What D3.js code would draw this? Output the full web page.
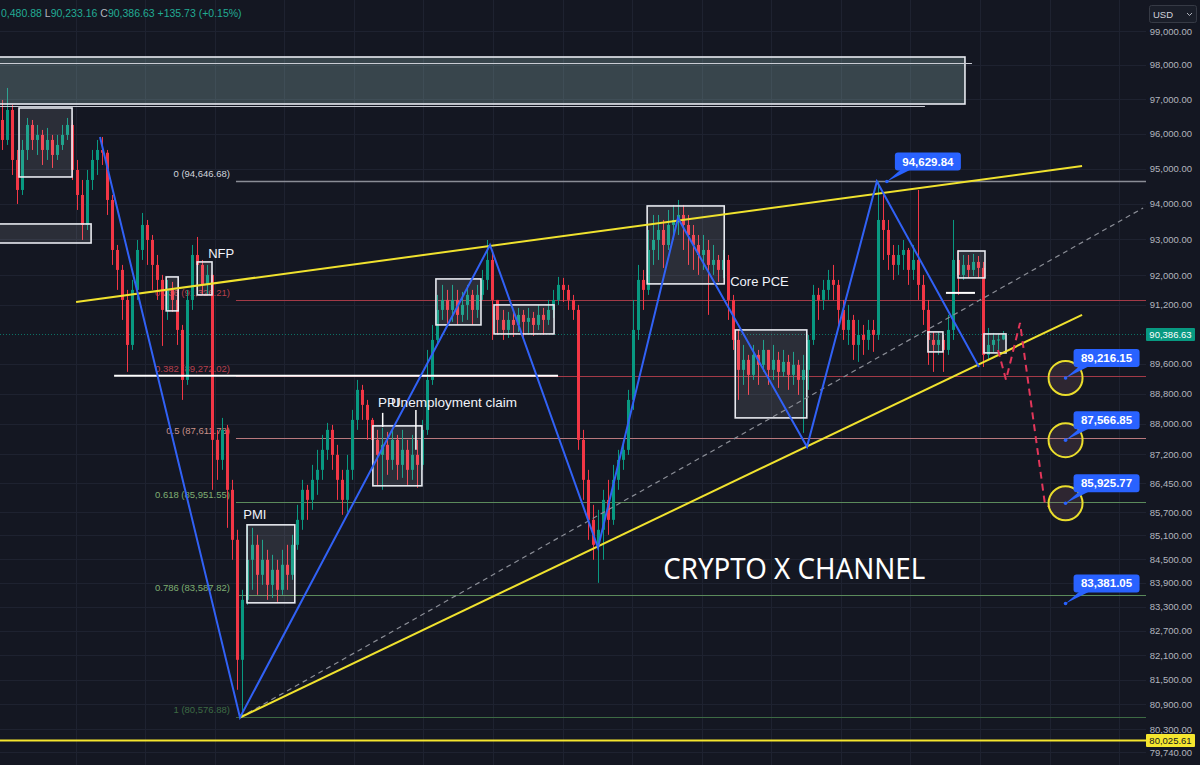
<!DOCTYPE html>
<html><head><meta charset="utf-8">
<script src="https://cdn.jsdelivr.net/npm/d3@7"></script>
<style>body{margin:0;background:#141722;}svg{display:block}</style>
</head><body><svg id="c" width="1200" height="765"></svg>
<script>
// ---------- DATA ----------
const firstOpen = 96393;
const closes = [95817,96683,95244,94391,95530,96249,95817,95961,95530,95817,95387,95674,95961,96249,94959,94249,93405,94674,95244,95530,
95450,94108,92707,92154,91328,90104,91603,92707,93405,92985,92292,91878,91055,91603,91328,90510,89163,91328,92568,92292,
91741,92016,87574,87050,87837,86271,84987,81983,83471,84479,84860,84100,84479,83848,84226,83722,84353,84100,84860,85498,
86271,86012,86530,86790,87312,87837,87181,86530,86012,86790,88100,88897,88498,88100,87574,87181,87443,87050,87574,86920,
87312,86790,87181,86920,87837,89163,90239,91055,91328,91055,91328,90919,91192,91466,91055,91466,91878,92430,91328,90782,
90510,90782,90646,90919,90728,90837,90646,90919,90782,91055,91328,91741,91603,91328,91055,87574,86530,85498,84860,85243,
86012,85498,86530,87050,87312,88630,90510,91878,91603,92707,92985,93265,92846,93405,93545,93686,93405,93125,92846,92568,
92707,92292,92430,92154,92430,91328,90239,89432,89700,89298,89835,89566,89969,89432,89700,89378,89646,89298,89566,89163,
89432,90239,91466,91328,91603,91878,91741,91055,90510,90782,90104,90375,90239,90510,90375,93545,93265,92568,92292,92568,
92707,92154,92430,91741,91055,90239,90104,90239,89969,90510,92430,92016,92292,92154,92375,92209,89835,90104,90239,90250.9,
90386.63];
const highs = [96973,97323,96828,95530,95817,96451,96393,96249,96105,96163,95961,95961,96249,96451,96393,95244,94674,94959,95530,95817,
95903,95530,94249,92846,92292,91603,91878,92985,93742,93545,93125,92568,92016,91878,91823,91603,90646,91603,92846,93069,
92430,92292,91878,87837,88153,87968,86530,85243,83722,85370,85293,85115,84987,84733,84606,84479,84733,84860,85115,85884,
86530,86400,86920,87312,87705,88021,87968,87443,86790,87181,88365,89163,89030,88630,88153,87837,87889,87784,87837,87705,
87837,87574,87705,87574,88100,89969,90646,91466,91741,91603,91741,91603,91548,91741,91603,91741,92154,92985,92707,91328,
91055,91000,91055,91110,91055,91110,91000,91192,91110,91328,91603,91960,91933,91741,91466,91192,87837,86790,85884,85755,
86271,86530,86920,87312,87574,88897,91328,92292,92154,93265,93686,93686,93545,93826,93967,94108,93967,93686,93405,93125,
93125,92985,92846,92568,92707,92568,91466,90510,90104,89835,90104,89969,90239,89969,90104,89916,89969,89835,89916,89700,
89835,90375,91741,91658,91878,92154,92292,91878,91328,91192,90919,90782,90646,90782,90782,94629.84,94249,93545,92846,92846,
92985,92763,92846,94391,92016,91328,90456,90456,90375,90919,93545,92707,92568,92568,92596,92540,92375,90564,90429,90402,
90480.88];
const lows = [95530,95674,94816,93995,94249,95244,95530,95387,95101,95244,95016,95244,95530,95817,94674,93826,92985,93265,94391,94816,
95101,93686,92292,91603,90782,89378,89969,91328,92430,92292,91603,91328,90077,90782,91000,90104,88630,89030,91055,91878,
91466,91466,86271,86530,86790,85293,84479,81250,80576.88,83346,83722,83597,83848,83471,83521,83421,83597,83722,83974,84733,
85243,85498,85755,86141,86530,87050,86790,86012,85627,85704,86530,87837,88100,87574,87050,86400,86271,86660,86790,86530,
86582,86400,86530,86323,86790,87705,89030,90104,90782,90646,90728,90646,90728,90782,90646,90837,91328,91603,90239,90375,
90239,90293,90320,90456,90239,90429,90348,90510,90375,90646,90837,91192,91274,91055,90782,87312,86012,84987,84479,83898,
84479,85115,85370,86271,86790,87181,88365,90239,91055,91466,92292,92430,92209,92707,92985,93125,92707,92292,92154,92016,
92154,90919,92016,91823,91933,90782,89969,88630,89030,88763,89163,89030,89378,89030,89163,88950,89244,88897,89030,88763,
87758,88897,90104,90782,91055,91328,91328,90646,90239,90104,89700,89646,89835,89969,89916,90239,92430,92154,91878,92016,
92154,91741,91878,91328,90646,89566,89378,89835,89378,89835,90239,91466,91878,91933,91988,91933,89510,89700,89916,89969,
90233.16];

const priceTicks = [99000,98000,97000,96000,95000,94000,93000,92000,91200,89600,88800,88000,87200,86450,85700,85100,84500,83900,83300,82700,82100,81500,80900,80300,79740];
const timeGridIdx = [14.7,28.6,42.5,56.4,70.3,84.2,98.1,112.0,125.9,139.8,153.7,167.6,181.5,195.4,209.3,223.2];

const fibRatios = ["0","0.236","0.382","0.5","0.618","0.786","1"];
const fibPrices = [94646.68,91326.21,89272.02,87611.78,85951.55,83587.82,80576.88];
const fibRange = [46.75, 228.6];

const lastPrice = 90386.63;
const supportPrice = 80025.61;

// boxes: [idx0, idx1, priceTop, priceBottom]
const zoneTop = [-1, 192.4, 98231, 96856];
const zoneLines = [[-1, 193.8, 98055], [-1, 184.4, 96798]];
const boxes = [
  [3.4, 14.0, 96740, 94759],
  [-1, 17.8, 93433, 92901],
  [32.8, 35.2, 91960, 91028],
  [39.0, 41.96, 92375, 91465],
  [48.95, 58.5, 85370, 83396],
  [74.1, 83.9, 87942, 86375],
  [86.7, 95.7, 91905, 90646],
  [98.3, 110.3, 91191, 90401],
  [128.9, 144.3, 93939, 91768],
  [146.5, 160.8, 90510, 88153],
  [185.0, 188.0, 90456, 89915],
  [191.0, 196.4, 92678, 91933],
  [196.2, 200.6, 90401, 89888]
];
const whiteHLines = [[22.4, 111.1, 89272.02], [188.6, 194.4, 91521]];
const whiteVLines = [[76.06, 88286, 87915], [82.7, 88365, 87312]];

const channelUpper = [[14.8, 91273], [215.8, 95072]];
const channelLower = [[47.55, 80576.88], [215.8, 90919]];
const midDashed = [[47.55, 80576.88], [228.0, 93882]];
const zigzag = [[19.58, 95903], [47.55, 80576.88], [97.5, 92846], [119.08, 84784], [135.06, 93601], [160.84, 87391], [174.8, 94629.84], [195.2, 89510]];
const projection = [[199.0, 89969], [200.6, 89163], [203.4, 90700], [208.4, 85884], [209.4, 85830]];

const targetCircles = [89216.15, 87566.85, 85925.77];
const targetIdx = 212.5;
const callouts = [[176.8, 94629.84], [212.5, 89216.15], [212.5, 87566.85], [212.5, 85925.77], [212.5, 83381.05]];

const eventLabels = [
  ["NFP", 41.2, 92485, 13],
  ["PMI", 48.2, 85524, 13],
  ["PPI", 75.1, 88445, 13.5],
  ["Unemployment claim", 77.7, 88445, 13.5],
  ["Core PCE", 145.5, 91713, 13]
];
const watermark = ["CRYPTO X CHANNEL", 132.1, 84000];
const header = [["0,480.88 ", "#22ab94"], ["L", "#b2b5be"], ["90,233.16 ", "#22ab94"], ["C", "#b2b5be"], ["90,386.63 ", "#22ab94"], ["+135.73 (+0.15%)", "#22ab94"]];

// ---------- DRAW ----------
const svg = d3.select('#c');
const x = d3.scaleLinear().domain([0, 200]).range([2, 1003]);
const y = d3.scaleLog().domain([79740, 99000]).range([752.3, 31]);
const plotRight = 1146;
const FONT = "'Liberation Sans', Arial, sans-serif";
const fmt = d3.format(",.2f");
const cr = v => Math.round(v) + 0.5;

svg.append('rect').attr('width', 1200).attr('height', 765).attr('fill', '#141722');
svg.append('clipPath').attr('id', 'plot').append('rect').attr('x', 0).attr('y', 0).attr('width', plotRight).attr('height', 765);
const g = svg.append('g').attr('clip-path', 'url(#plot)');

// grid
g.selectAll('.hg').data(priceTicks).join('line')
  .attr('x1', 0).attr('x2', plotRight).attr('y1', d => cr(y(d))).attr('y2', d => cr(y(d)))
  .attr('stroke', '#1e2230');
g.selectAll('.vg').data(timeGridIdx).join('line')
  .attr('x1', d => cr(x(d))).attr('x2', d => cr(x(d))).attr('y1', 0).attr('y2', 765)
  .attr('stroke', '#1e2230');

// current price dotted line
g.append('line').attr('x1', 0).attr('x2', plotRight).attr('y1', cr(y(lastPrice))).attr('y2', cr(y(lastPrice)))
  .attr('stroke', '#089981').attr('stroke-opacity', 0.7).attr('stroke-dasharray', '1,2');

// fib lines + labels
const fibLineCol = ['#8a8d96', '#a33a47', '#a33a47', '#b8787d', '#5b8a5b', '#5b8a5b', '#3d6a44'];
const fibTextCol = ['#d1d4dc', '#b8404e', '#b8404e', '#c89088', '#7fae72', '#7fae72', '#3d6a44'];
g.selectAll('.fl').data(fibPrices).join('line')
  .attr('x1', x(fibRange[0])).attr('x2', x(fibRange[1]))
  .attr('y1', d => cr(y(d))).attr('y2', d => cr(y(d)))
  .attr('stroke', (d, i) => fibLineCol[i]).attr('stroke-width', (d, i) => i === 0 ? 1.6 : 1);
g.selectAll('.ft').data(fibPrices).join('text')
  .attr('x', x(fibRange[0]) - 6).attr('y', d => y(d) - 4)
  .attr('text-anchor', 'end').attr('font-family', FONT).attr('font-size', 9.5)
  .attr('fill', (d, i) => fibTextCol[i])
  .text((d, i) => `${fibRatios[i]} (${fmt(d)})`);

// candles
const candles = closes.map((c, i) => {
  const o = i === 0 ? firstOpen : closes[i - 1];
  return { i, o, c, h: Math.max(highs[i], o, c), l: Math.min(lows[i], o, c) };
});
const cg = g.append('g');
cg.selectAll('line').data(candles).join('line')
  .attr('x1', d => cr(x(d.i))).attr('x2', d => cr(x(d.i)))
  .attr('y1', d => y(d.h)).attr('y2', d => y(d.l))
  .attr('stroke', d => d.c >= d.o ? '#089981' : '#f23645').attr('stroke-width', 1);
cg.selectAll('rect').data(candles).join('rect')
  .attr('x', d => Math.round(x(d.i)) - 1).attr('width', 3)
  .attr('y', d => y(Math.max(d.o, d.c)))
  .attr('height', d => Math.max(1, y(Math.min(d.o, d.c)) - y(Math.max(d.o, d.c))))
  .attr('fill', d => d.c >= d.o ? '#089981' : '#f23645');

// top zone
g.append('rect').attr('x', x(zoneTop[0])).attr('width', x(zoneTop[1]) - x(zoneTop[0]))
  .attr('y', y(zoneTop[2])).attr('height', y(zoneTop[3]) - y(zoneTop[2]))
  .attr('fill', 'rgba(150,190,185,0.28)').attr('stroke', '#e8eaf0').attr('stroke-width', 1.6);
g.selectAll('.zl').data(zoneLines).join('line')
  .attr('x1', d => x(d[0])).attr('x2', d => x(d[1])).attr('y1', d => cr(y(d[2]))).attr('y2', d => cr(y(d[2])))
  .attr('stroke', '#c9ccd4').attr('stroke-width', 1.2);

// boxes
g.selectAll('.bx').data(boxes).join('rect')
  .attr('x', d => x(d[0])).attr('width', d => x(d[1]) - x(d[0]))
  .attr('y', d => y(d[2])).attr('height', d => y(d[3]) - y(d[2]))
  .attr('fill', 'rgba(255,255,255,0.1)').attr('stroke', '#e8eaf0').attr('stroke-width', 1.6);

// white lines
g.selectAll('.wh').data(whiteHLines).join('line')
  .attr('x1', d => x(d[0])).attr('x2', d => x(d[1])).attr('y1', d => y(d[2])).attr('y2', d => y(d[2]))
  .attr('stroke', '#ffffff').attr('stroke-width', 2);
g.selectAll('.wv').data(whiteVLines).join('line')
  .attr('x1', d => x(d[0])).attr('x2', d => x(d[0])).attr('y1', d => y(d[1])).attr('y2', d => y(d[2]))
  .attr('stroke', '#ffffff').attr('stroke-width', 1.5);

// bottom support line
g.append('line').attr('x1', 0).attr('x2', plotRight).attr('y1', y(supportPrice)).attr('y2', y(supportPrice))
  .attr('stroke', '#f5e62e').attr('stroke-width', 2);

const line = d3.line().x(d => x(d[0])).y(d => y(d[1]));
g.append('path').attr('d', line(midDashed)).attr('fill', 'none').attr('stroke', '#8a8d96').attr('stroke-width', 1.2).attr('stroke-dasharray', '5,4');
[channelUpper, channelLower].forEach(c => g.append('path').attr('d', line(c)).attr('fill', 'none').attr('stroke', '#f0e22e').attr('stroke-width', 2));
g.append('path').attr('d', line(zigzag)).attr('fill', 'none').attr('stroke', '#3161f5').attr('stroke-width', 2).attr('stroke-linejoin', 'miter');
g.append('path').attr('d', line(projection)).attr('fill', 'none').attr('stroke', '#e2365a').attr('stroke-width', 2).attr('stroke-dasharray', '7,5');

// target circles
g.selectAll('.tc').data(targetCircles).join('circle')
  .attr('cx', x(targetIdx)).attr('cy', d => y(d)).attr('r', 17)
  .attr('fill', 'rgba(150,100,110,0.2)').attr('stroke', '#eadd2c').attr('stroke-width', 2);

// callouts
const cog = g.selectAll('.co').data(callouts).join('g');
cog.each(function (d) {
  const ax = x(d[0]), ay = y(d[1]);
  const bx = ax + 8, bw = 66, bh = 18, by = ay - 11 - bh;
  const s = d3.select(this);
  s.append('path').attr('d', `M${ax},${ay}L${bx + 6},${by + bh - 1}L${bx + 16},${by + bh - 1}Z`).attr('fill', '#2962ff');
  s.append('circle').attr('cx', ax).attr('cy', ay).attr('r', 1.8).attr('fill', '#2962ff');
  s.append('rect').attr('x', bx).attr('y', by).attr('width', bw).attr('height', bh).attr('rx', 3).attr('fill', '#2962ff');
  s.append('text').attr('x', bx + bw / 2).attr('y', by + 13).attr('text-anchor', 'middle')
    .attr('font-family', FONT).attr('font-weight', 'bold').attr('font-size', 11.5).attr('fill', '#ffffff').text(fmt(d[1]));
});

// event labels
g.selectAll('.ev').data(eventLabels).join('text')
  .attr('x', d => x(d[1])).attr('y', d => y(d[2])).attr('font-family', FONT).attr('font-size', d => d[3])
  .attr('fill', '#f0f3fa').text(d => d[0]);
g.append('text').attr('x', x(watermark[1])).attr('y', y(watermark[2]))
  .attr('font-family', "'Noto Sans', 'Open Sans', sans-serif").attr('font-size', 29)
  .attr('textLength', 262).attr('lengthAdjust', 'spacingAndGlyphs')
  .attr('fill', '#ffffff').text(watermark[0]);

// price axis
const ax = svg.append('g').attr('transform', 'translate(1192,0)')
  .call(d3.axisLeft(y).tickValues(priceTicks).tickFormat(fmt).tickSize(0).tickPadding(0));
ax.select('.domain').remove();
ax.selectAll('text').attr('fill', '#b2b5be').attr('font-size', 9.5).attr('font-family', FONT).attr('dy', '0.33em');

// price tags
function tag(p, bg, fg) {
  const yy = y(p);
  svg.append('rect').attr('x', 1146).attr('y', yy - 6.5).attr('width', 49).attr('height', 13).attr('rx', 1).attr('fill', bg);
  svg.append('text').attr('x', 1170.5).attr('y', yy + 3.5).attr('text-anchor', 'middle').attr('font-family', FONT)
    .attr('font-size', 9.5).attr('fill', fg).text(fmt(p));
}
tag(lastPrice, '#089981', '#ffffff');
tag(supportPrice, '#f5e62e', '#131722');

// USD selector
svg.append('rect').attr('x', 1149.5).attr('y', 5.5).attr('width', 47).attr('height', 17).attr('rx', 2)
  .attr('fill', '#1a1e29').attr('stroke', '#363a45');
svg.append('text').attr('x', 1153).attr('y', 17.5).attr('font-family', FONT).attr('font-size', 9.5).attr('fill', '#d1d4dc').text('USD');
svg.append('path').attr('d', 'M1187,13 L1189.5,15.5 L1192,13').attr('fill', 'none').attr('stroke', '#b2b5be').attr('stroke-width', 1);

// header OHLC
const ht = svg.append('text').attr('x', 1).attr('y', 17).attr('font-family', FONT).attr('font-size', 10.5);
ht.selectAll('tspan').data(header).join('tspan').attr('fill', d => d[1]).text(d => d[0]);
</script></body></html>
